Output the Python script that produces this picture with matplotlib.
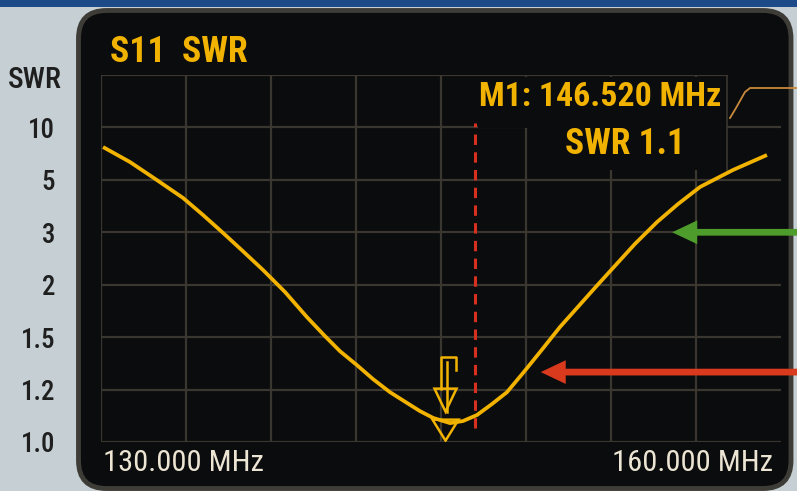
import numpy as np
import matplotlib
matplotlib.use("Agg")
import matplotlib.pyplot as plt
from matplotlib.patches import FancyBboxPatch, Rectangle, Polygon
from matplotlib.lines import Line2D
from matplotlib.transforms import ScaledTranslation

plt.rcParams['font.family'] = ['Roboto Condensed', 'Liberation Sans Narrow',
                               'Open Sans Condensed', 'Roboto', 'DejaVu Sans']

# SWR trace
freq = [130.09, 131.28, 132.47, 133.62, 134.50, 135.38, 136.26, 137.15, 138.12,
        139.09, 139.88, 140.54, 141.29, 142.00, 142.75, 143.50, 144.07, 144.65,
        145.40, 145.97, 146.59, 147.25, 147.91, 148.62, 149.37, 150.25, 151.13,
        151.79, 152.59, 153.56, 154.53, 155.46, 156.43, 157.88, 159.38]
swr = [8.13, 6.70, 4.99, 4.31, 3.66, 2.99, 2.64, 2.28, 1.93,
       1.69, 1.51, 1.42, 1.34, 1.26, 1.19, 1.149, 1.118, 1.092,
       1.072, 1.08, 1.103, 1.145, 1.19, 1.295, 1.415, 1.597, 1.81,
       1.97, 2.32, 2.78, 3.39, 4.08, 4.73, 5.94, 7.37]

# screen's y graticule (equally spaced SWR steps)
swr_ticks = [1.0, 1.2, 1.5, 2, 3, 5, 10, 20]
swr_labels = ['1.0', '1.2', '1.5', '2', '3', '5', '10', '']
f_start, f_stop = 130.0, 160.0
f_labels = ['130.000 MHz', '160.000 MHz']

m1_freq = 146.52
m1_swr = 1.1
dip_freq, dip_swr = 145.2, 1.07
green_arrow = (155.2, 3.0)
red_arrow = (149.4, 1.3)

YEL = '#f2b300'
GRID = '#3a3730'
BG = '#0b0c0d'

fig = plt.figure(figsize=(7.97, 4.91), dpi=100, facecolor='#c6d0d4')
inch = fig.dpi_scale_trans
rend = fig.canvas.get_renderer()


def fit(t, target_px):
    # scale a text so its width matches the screen
    w = t.get_window_extent(rend).width
    t.set_fontsize(t.get_fontsize() * target_px / w)


def probe_size(s, target_px, **kw):
    t = fig.text(0, 0, s, fontsize=20, **kw)
    w = t.get_window_extent(rend).width
    t.remove()
    return 20 * target_px / w


# screen bezel
fig.add_artist(Rectangle((0, 4.84), 7.97, 0.07, fc='#1d4a88', ec='none',
                         transform=inch, zorder=-7))
fig.add_artist(FancyBboxPatch((0.785, 0.025), 7.125, 4.78,
                              boxstyle='round,pad=0,rounding_size=0.28',
                              fc=BG, ec='#3e3c37', lw=3.5, transform=inch, zorder=-5))

ax = fig.add_axes([101/797, 49/491, 680/797, 367/491])
ax.set_facecolor('none')
for s in ax.spines.values():
    s.set_visible(False)

idx = np.arange(len(swr_ticks))
ax.set_yscale('function', functions=(lambda v: np.interp(v, swr_ticks, idx),
                                     lambda i: np.interp(i, idx, swr_ticks)))
ax.set_ylim(swr_ticks[0], swr_ticks[-1])
ax.set_xlim(f_start, f_stop)

ax.set_yticks(swr_ticks, swr_labels)
ax.yaxis.set_minor_locator(plt.NullLocator())
ax.set_xticks([f_start, f_stop], f_labels)
ax.set_xticks(np.arange(f_start, f_stop - 1, (f_stop - f_start) / 8), minor=True)
ax.xaxis.remove_overlapping_locs = False
ax.xaxis.grid(True, which='minor', color=GRID, lw=1.6)
ax.yaxis.grid(True, which='major', color=GRID, lw=1.6)
ax.tick_params(which='both', length=0)
ax.tick_params(axis='y', labelsize=probe_size('10', 27, fontweight='medium'),
               labelcolor='#1f1f1f', pad=33)
for lbl in ax.get_yticklabels():
    lbl.set_fontweight('medium')
ax.tick_params(axis='x', labelsize=probe_size('130.000 MHz', 160),
               labelcolor='#ece5d3', pad=5)
xl = ax.get_xticklabels()
xl[0].set_ha('left')
xl[1].set_ha('right')
xl[0].set_transform(xl[0].get_transform() + ScaledTranslation(0.02, 0, inch))
xl[1].set_transform(xl[1].get_transform() + ScaledTranslation(-0.08, 0, inch))

# readout box hides the graticule behind it
ax.add_patch(Rectangle((0.554, 0.856), 0.367, 0.139, transform=ax.transAxes,
                       fc=BG, ec='none', zorder=1.8))
ax.add_patch(Rectangle((0.628, 0.741), 0.293, 0.116, transform=ax.transAxes,
                       fc=BG, ec='none', zorder=1.8))
ax.add_patch(Rectangle((0.922, 0.99), 0.08, 0.02, transform=ax.transAxes,
                       fc=BG, ec='none', zorder=1.8, clip_on=False))
ax.plot([0.921, 0.921], [0.741, 1.0], transform=ax.transAxes, color=GRID, lw=1.2, zorder=1.9)

ax.plot(freq, swr, color=YEL, lw=2.7, zorder=3, solid_capstyle='butt')

ax.axvline(m1_freq, ymin=0.038, ymax=0.869, color='#d7301e', lw=2.2,
           dashes=(3.4, 2.4), zorder=3.5)

# marker glyph anchored at the dip
mt = inch + ScaledTranslation(dip_freq, dip_swr, ax.transData)
p = 0.01
ax.add_patch(Polygon([(-13*p, 4*p), (13*p, 4*p), (0, -17*p)], closed=True, fc='none',
                     ec=YEL, lw=1.8, transform=mt, zorder=4))
ax.add_patch(Polygon([(-11*p, 35*p), (11*p, 35*p), (0, 12*p)], closed=True, fc='none',
                     ec=YEL, lw=1.8, transform=mt, zorder=4))
ax.plot([1*p, 1*p], [12*p, 62*p], color=YEL, lw=1.8, transform=mt, zorder=4)
ax.plot([-5*p, -5*p, 10*p, 10*p], [35*p, 67*p, 67*p, 54*p], color=YEL, lw=1.8,
        transform=mt, zorder=4)

t1 = ax.text(0.734, 0.940, f'M1: {m1_freq:.3f} MHz', transform=ax.transAxes, ha='center',
             va='center', color=YEL, fontsize=26, fontweight='bold', zorder=4)
t2 = ax.text(0.771, 0.812, f'SWR {m1_swr:.1f}', transform=ax.transAxes, ha='center',
             va='center', color=YEL, fontsize=26, fontweight='bold', zorder=4)
fit(t1, 243)
fit(t2, 120)

for (af, asw), col in [(green_arrow, '#4e9c2b'), (red_arrow, '#d9391d')]:
    ax.annotate('', xy=(af, asw), xytext=(1.02, asw), xycoords='data',
                textcoords=('figure fraction', 'data'),
                arrowprops=dict(arrowstyle='simple,head_length=1.0,head_width=0.95,tail_width=0.27',
                                mutation_scale=18, fc=col, ec='none', lw=0,
                                shrinkA=0, shrinkB=0), annotation_clip=False, zorder=5)

# lead from readout to the side panel
fig.add_artist(Line2D([7.30, 7.36, 7.45, 7.50, 7.97],
                      [(491 - 118) / 100, (491 - 108) / 100, (491 - 92) / 100,
                       (491 - 88) / 100, (491 - 88) / 100],
                      color='#c98a3c', lw=1.3, transform=inch))

tt = fig.text(110/797, 1 - 52/491, 'S11  SWR', ha='left', va='center', color=YEL,
              fontsize=27, fontweight='bold')
fit(tt, 138)
ts = fig.text(62/797, 1 - 80/491, 'SWR', ha='right', va='center', color='#1f1f1f',
              fontsize=20, fontweight='medium')
fit(ts, 54)

fig.savefig('out.png', dpi=100, facecolor=fig.get_facecolor())
